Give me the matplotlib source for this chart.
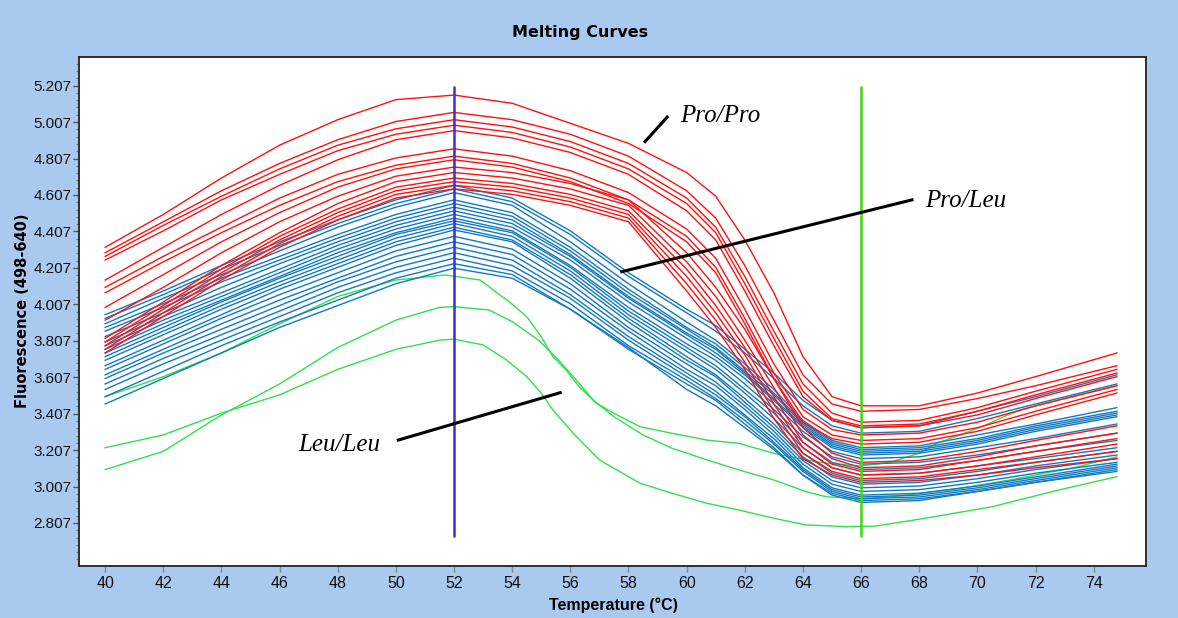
import matplotlib
matplotlib.use("Agg")
import matplotlib.pyplot as plt
import numpy as np

# temperature grid (deg C) for the Pro/Pro and Pro/Leu traces
temps = [40, 42, 44, 46, 48, 50, 52, 54, 56, 58, 60, 61, 62, 63, 64, 65, 66, 68, 70, 72, 74.8]

# Pro/Pro traces (red)
pro_pro = [
    [4.32, 4.50, 4.70, 4.88, 5.02, 5.13, 5.155, 5.11, 5.00, 4.89, 4.73, 4.60, 4.36, 4.07, 3.72, 3.50, 3.45, 3.45, 3.52, 3.61, 3.74],
    [4.29, 4.46, 4.63, 4.78, 4.91, 5.01, 5.06, 5.02, 4.94, 4.82, 4.63, 4.48, 4.22, 3.92, 3.62, 3.46, 3.42, 3.43, 3.49, 3.56, 3.67],
    [4.27, 4.44, 4.60, 4.75, 4.88, 4.97, 5.02, 4.98, 4.90, 4.78, 4.59, 4.43, 4.16, 3.86, 3.57, 3.41, 3.36, 3.37, 3.44, 3.53, 3.65],
    [4.25, 4.41, 4.58, 4.72, 4.85, 4.94, 4.99, 4.95, 4.87, 4.75, 4.56, 4.40, 4.12, 3.82, 3.53, 3.38, 3.34, 3.35, 3.42, 3.51, 3.63],
    [4.14, 4.32, 4.50, 4.66, 4.80, 4.91, 4.96, 4.92, 4.84, 4.72, 4.52, 4.36, 4.08, 3.78, 3.50, 3.37, 3.33, 3.34, 3.40, 3.49, 3.61],
    [4.10, 4.27, 4.43, 4.59, 4.72, 4.81, 4.86, 4.82, 4.74, 4.62, 4.42, 4.26, 3.98, 3.68, 3.43, 3.32, 3.29, 3.30, 3.36, 3.45, 3.56],
    [4.07, 4.24, 4.40, 4.55, 4.68, 4.77, 4.82, 4.78, 4.70, 4.58, 4.38, 4.21, 3.93, 3.63, 3.39, 3.29, 3.26, 3.27, 3.33, 3.42, 3.54],
    [3.99, 4.17, 4.35, 4.51, 4.65, 4.75, 4.80, 4.76, 4.68, 4.56, 4.35, 4.18, 3.90, 3.60, 3.36, 3.27, 3.24, 3.25, 3.31, 3.40, 3.52],
    [3.92, 4.10, 4.29, 4.46, 4.60, 4.71, 4.76, 4.73, 4.67, 4.58, 4.29, 4.10, 3.87, 3.60, 3.33, 3.19, 3.14, 3.15, 3.20, 3.26, 3.34],
    [3.82, 4.02, 4.22, 4.40, 4.56, 4.68, 4.73, 4.70, 4.64, 4.55, 4.24, 4.05, 3.81, 3.55, 3.29, 3.16, 3.11, 3.12, 3.17, 3.23, 3.30],
    [3.80, 4.00, 4.20, 4.38, 4.53, 4.65, 4.70, 4.67, 4.61, 4.52, 4.20, 4.00, 3.77, 3.50, 3.25, 3.13, 3.09, 3.10, 3.15, 3.20, 3.27],
    [3.78, 3.98, 4.18, 4.36, 4.51, 4.63, 4.68, 4.65, 4.59, 4.50, 4.16, 3.96, 3.73, 3.46, 3.22, 3.11, 3.07, 3.08, 3.12, 3.17, 3.24],
    [3.76, 3.96, 4.16, 4.34, 4.49, 4.61, 4.66, 4.63, 4.57, 4.48, 4.12, 3.92, 3.69, 3.42, 3.19, 3.09, 3.05, 3.06, 3.10, 3.14, 3.20],
    [3.74, 3.94, 4.14, 4.32, 4.47, 4.59, 4.64, 4.61, 4.55, 4.46, 4.08, 3.88, 3.65, 3.38, 3.16, 3.07, 3.03, 3.04, 3.07, 3.11, 3.16],
]

# Pro/Leu traces (blue)
pro_leu = [
    [3.95, 4.08, 4.22, 4.35, 4.47, 4.58, 4.66, 4.59, 4.41, 4.18, 3.98, 3.89, 3.76, 3.63, 3.48, 3.37, 3.33, 3.34, 3.42, 3.50, 3.62],
    [3.93, 4.06, 4.20, 4.33, 4.45, 4.56, 4.64, 4.57, 4.39, 4.16, 3.96, 3.86, 3.74, 3.60, 3.45, 3.34, 3.30, 3.31, 3.38, 3.46, 3.57],
    [3.90, 4.04, 4.17, 4.30, 4.43, 4.54, 4.62, 4.55, 4.35, 4.12, 3.91, 3.81, 3.68, 3.54, 3.37, 3.26, 3.22, 3.23, 3.29, 3.35, 3.44],
    [3.88, 4.01, 4.15, 4.27, 4.39, 4.50, 4.58, 4.51, 4.32, 4.09, 3.88, 3.79, 3.66, 3.52, 3.36, 3.25, 3.21, 3.22, 3.27, 3.34, 3.42],
    [3.86, 3.99, 4.13, 4.25, 4.37, 4.48, 4.56, 4.49, 4.30, 4.07, 3.87, 3.77, 3.64, 3.51, 3.35, 3.24, 3.20, 3.21, 3.26, 3.33, 3.41],
    [3.83, 3.96, 4.10, 4.23, 4.35, 4.46, 4.54, 4.47, 4.28, 4.05, 3.85, 3.76, 3.63, 3.49, 3.34, 3.23, 3.19, 3.20, 3.25, 3.32, 3.40],
    [3.80, 3.94, 4.07, 4.20, 4.33, 4.44, 4.52, 4.45, 4.27, 4.04, 3.84, 3.74, 3.62, 3.48, 3.33, 3.22, 3.18, 3.19, 3.24, 3.31, 3.39],
    [3.78, 3.92, 4.05, 4.18, 4.31, 4.42, 4.50, 4.43, 4.25, 4.02, 3.82, 3.72, 3.60, 3.46, 3.31, 3.20, 3.16, 3.17, 3.22, 3.27, 3.35],
    [3.76, 3.90, 4.03, 4.16, 4.29, 4.40, 4.48, 4.41, 4.22, 3.99, 3.79, 3.70, 3.57, 3.43, 3.28, 3.17, 3.13, 3.14, 3.18, 3.23, 3.30],
    [3.74, 3.88, 4.02, 4.15, 4.27, 4.39, 4.465, 4.40, 4.21, 3.97, 3.77, 3.67, 3.54, 3.41, 3.25, 3.14, 3.10, 3.11, 3.15, 3.20, 3.26],
    [3.72, 3.86, 4.00, 4.13, 4.25, 4.37, 4.45, 4.38, 4.19, 3.95, 3.75, 3.65, 3.52, 3.38, 3.22, 3.11, 3.07, 3.08, 3.12, 3.16, 3.22],
    [3.70, 3.84, 3.98, 4.11, 4.23, 4.35, 4.43, 4.36, 4.17, 3.93, 3.72, 3.62, 3.49, 3.35, 3.19, 3.08, 3.04, 3.05, 3.09, 3.14, 3.20],
    [3.67, 3.81, 3.95, 4.09, 4.21, 4.33, 4.415, 4.35, 4.15, 3.91, 3.70, 3.61, 3.47, 3.33, 3.17, 3.06, 3.02, 3.03, 3.07, 3.12, 3.18],
    [3.65, 3.79, 3.93, 4.06, 4.18, 4.30, 4.38, 4.31, 4.12, 3.88, 3.68, 3.58, 3.45, 3.31, 3.15, 3.04, 3.00, 3.01, 3.05, 3.10, 3.16],
    [3.62, 3.76, 3.90, 4.03, 4.15, 4.27, 4.35, 4.28, 4.09, 3.86, 3.65, 3.56, 3.43, 3.29, 3.13, 3.02, 2.98, 2.99, 3.03, 3.08, 3.14],
    [3.60, 3.74, 3.87, 4.00, 4.13, 4.24, 4.32, 4.25, 4.06, 3.83, 3.63, 3.53, 3.40, 3.27, 3.11, 3.00, 2.96, 2.97, 3.01, 3.06, 3.13],
    [3.57, 3.71, 3.84, 3.97, 4.10, 4.21, 4.29, 4.22, 4.04, 3.81, 3.61, 3.51, 3.39, 3.25, 3.10, 2.99, 2.95, 2.96, 3.00, 3.05, 3.12],
    [3.54, 3.68, 3.81, 3.94, 4.07, 4.18, 4.26, 4.19, 4.01, 3.78, 3.59, 3.49, 3.37, 3.24, 3.09, 2.98, 2.94, 2.95, 2.99, 3.04, 3.11],
    [3.50, 3.64, 3.78, 3.91, 4.03, 4.15, 4.23, 4.17, 3.98, 3.76, 3.57, 3.48, 3.35, 3.22, 3.07, 2.97, 2.93, 2.94, 2.98, 3.03, 3.10],
    [3.46, 3.60, 3.74, 3.88, 4.00, 4.12, 4.205, 4.15, 3.98, 3.77, 3.54, 3.45, 3.33, 3.21, 3.07, 2.96, 2.92, 2.93, 2.98, 3.03, 3.09],
]

# Leu/Leu traces (green), each read on its own temperatures
leu_a_t = [40, 42, 44, 46, 48, 50, 51.7, 52.9, 53.5, 53.9, 54.5, 55, 55.4, 55.85, 56.3, 56.9, 57.5, 58.4,
           59.5, 60.7, 61.8, 63, 64.1, 64.8, 66, 67, 68, 68.6, 69.4, 70.3, 70.9, 71.5, 72.5, 73.5, 74.8]
leu_a = [3.50, 3.61, 3.74, 3.90, 4.05, 4.14, 4.168, 4.14, 4.067, 4.021, 3.939, 3.829, 3.72, 3.647, 3.555, 3.464, 3.409, 3.335,
         3.299, 3.262, 3.244, 3.189, 3.153, 3.135, 3.12, 3.14, 3.19, 3.244, 3.29, 3.345, 3.39, 3.427, 3.47, 3.51, 3.56]

leu_b_t = [40, 42, 44, 46, 48, 50, 51.5, 52, 53.2, 54, 54.9, 55.6, 56.1, 56.8, 57.5, 58.5, 59.5, 60.7,
           61.8, 63, 64.1, 64.8, 66, 67.1, 69.4, 71, 73.3, 74.8]
leu_b = [3.10, 3.20, 3.40, 3.57, 3.77, 3.92, 3.99, 3.994, 3.976, 3.912, 3.811, 3.70, 3.61, 3.48, 3.39, 3.29, 3.217, 3.153,
         3.098, 3.043, 2.979, 2.951, 2.94, 2.951, 2.997, 3.04, 3.11, 3.17]

leu_c_t = [40, 42, 44, 46, 48, 50, 51.5, 52, 53, 53.8, 54.5, 55, 55.4, 56.1, 57, 58.4, 59.5, 60.7,
           61.8, 63, 64.1, 65.5, 66.5, 68.2, 70.5, 72.8, 74.8]
leu_c = [3.22, 3.29, 3.41, 3.51, 3.65, 3.76, 3.81, 3.816, 3.784, 3.702, 3.61, 3.519, 3.427, 3.299, 3.153, 3.025, 2.970, 2.915,
         2.878, 2.833, 2.796, 2.787, 2.79, 2.833, 2.896, 2.988, 3.061]

xticks = list(range(40, 76, 2))
yticks = [2.807, 3.007, 3.207, 3.407, 3.607, 3.807, 4.007, 4.207, 4.407, 4.607, 4.807, 5.007, 5.207]
cursor_temps = [52, 66]

RED = "#ff1010"
BLUE = "#1279c0"
GREEN = "#30e050"
BG = "#a9c9ee"

plt.rcParams["font.family"] = ["Liberation Sans", "DejaVu Sans"]

fig = plt.figure(figsize=(11.78, 6.18), dpi=100, facecolor=BG)
ax = fig.add_axes([79 / 1178, 1 - 566 / 618, 1067 / 1178, 509 / 618])
ax.set_facecolor("white")

for t, v in [(leu_a_t, leu_a), (leu_b_t, leu_b), (leu_c_t, leu_c)]:
    ax.plot(t, v, color=GREEN, lw=1.0, zorder=2)
for v in pro_leu:
    ax.plot(temps, v, color=BLUE, lw=1.0, zorder=3)
for v in pro_pro:
    ax.plot(temps, v, color=RED, lw=1.0, zorder=4)

# cursor lines
ax.vlines(cursor_temps[0], 2.73, 5.205, color="#3b2fd1", lw=1.8, zorder=6)
ax.vlines(cursor_temps[1], 2.73, 5.205, color="#40d810", lw=1.8, zorder=6)

ax.set_xlim(39.1, 75.8)
ax.set_ylim(2.571, 5.364)
ax.set_xticks(xticks)
ax.set_yticks(yticks)
ax.set_yticklabels(["%.3f" % y for y in yticks])
ax.set_yticks(np.arange(2.607, 5.36, 0.04), minor=True)
ax.tick_params(axis="x", labelsize=11.5, length=4, width=1, color="#888888", pad=3, labelcolor="#111111")
ax.tick_params(axis="y", which="major", labelsize=11, length=4, width=1, color="#555555", pad=1.5, labelcolor="#111111")
ax.tick_params(axis="y", which="minor", length=2, width=0.8, color="#777777")
for s in ax.spines.values():
    s.set_color("#222222")
    s.set_linewidth(1.3)

# labels
fig.text(580 / 1178, 1 - 33 / 618, "Melting Curves", ha="center", va="center",
         fontsize=11.5, fontweight="bold", family="DejaVu Sans")
fig.text(613 / 1178, 1 - 605 / 618, "Temperature (\u00b0C)", ha="center", va="center",
         fontsize=11.5, fontweight="bold")
fig.text(23 / 1178, 1 - 311 / 618, "Fluorescence (498-640)", ha="center", va="center",
         rotation=90, fontsize=10.5, fontweight="bold", family="DejaVu Sans")

# genotype call-outs
serif = ["Liberation Serif", "DejaVu Serif"]
ax.text(59.77, 5.041, "Pro/Pro", fontsize=18, style="italic", family=serif, va="center", zorder=7)
ax.plot([58.57, 59.33], [4.900, 5.034], color="black", lw=2.2, zorder=7)
ax.text(68.2, 4.574, "Pro/Leu", fontsize=18, style="italic", family=serif, va="center", zorder=7)
ax.plot([57.77, 67.75], [4.186, 4.580], color="black", lw=2.2, zorder=7)
ax.text(46.64, 3.235, "Leu/Leu", fontsize=18, style="italic", family=serif, va="center", zorder=7)
ax.plot([50.08, 55.65], [3.262, 3.522], color="black", lw=2.2, zorder=7)

fig.savefig("out.png", dpi=100, facecolor=BG)
